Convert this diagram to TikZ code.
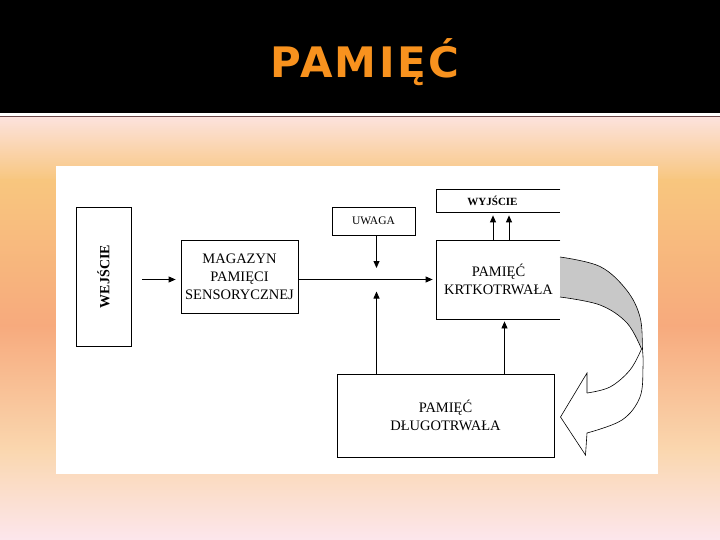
\documentclass[tikz,border=0pt]{standalone}
\usepackage{fontspec}
\setmainfont{Liberation Serif}
\newfontfamily\tytulfont[LetterSpace=6]{DejaVu Sans}
\usetikzlibrary{arrows.meta}
\definecolor{tytul}{RGB}{248,146,30}
\definecolor{bgtop}{RGB}{252,226,220}
\definecolor{bgorange}{RGB}{248,198,126}
\definecolor{bgsalmon}{RGB}{247,170,125}
\definecolor{bglight}{RGB}{250,215,175}
\definecolor{bgbottom}{RGB}{252,230,236}
\definecolor{wstega}{RGB}{200,200,200}
\tikzset{%
  >={Triangle[width=6pt,length=7pt]},
            base/.style = {rectangle, draw=black, line width=0.8pt,
                           inner sep=0pt, text centered, align=center,
                           font=\fontsize{14.5}{18}\selectfont},
  box0/.style = {base},
  box1/.style = {base, font=\fontsize{11.5}{14}\selectfont},
  void/.style = {base, draw=none},
  line/.style = {line width=0.8pt},
}

\begin{document}
\begin{tikzpicture}[x=1pt, y=-1pt]
  \useasboundingbox (0,0) rectangle (720,540);

  % slide background
  \fill[black] (0,0) rectangle (720,113);
  \fill[white] (0,113) rectangle (720,117);
  \draw[line width=1.2pt, black!65!red!40!gray] (0,116.8) -- (720,116.8);
  \shade[top color=bgtop,    bottom color=bgorange] (0,117.5) rectangle (720,181);
  \shade[top color=bgorange, bottom color=bgsalmon] (0,180)   rectangle (720,326);
  \shade[top color=bgsalmon, bottom color=bglight]  (0,325)   rectangle (720,451);
  \shade[top color=bglight,  bottom color=bgbottom] (0,450)   rectangle (720,540);
  \node (tytul) [anchor=base, text=tytul, font=\tytulfont\bfseries\fontsize{42}{48}\selectfont]
        at (365,78) {PAMIĘĆ};
  \fill[white] (56,166) rectangle (658,474);

  % boxes
  \node (wejscie) [box0, rotate=90, minimum width=139pt, minimum height=55pt,
                   font=\bfseries\fontsize{14}{17}\selectfont] at (103.5,276.5) {WEJŚCIE};
  \node (magazyn) [box0, minimum width=117pt, minimum height=73pt] at (239.5,276.5)
        {MAGAZYN\\PAMIĘCI\\SENSORYCZNEJ};
  \node (uwaga)   [box1, minimum width=83pt, minimum height=28pt] at (373.5,221) {UWAGA};
  \node (wyjscie) [void, minimum width=111pt, minimum height=22pt,
                   font=\bfseries\fontsize{11}{13}\selectfont] at (492.5,201) {WYJŚCIE};
  \node (krotka)  [void, minimum width=123pt, minimum height=78pt] at (498.5,279.5)
        {PAMIĘĆ\\KRTKOTRWAŁA};
  \node (dlugo)   [box0, minimum width=217pt, minimum height=83pt] at (445.5,415.5)
        {PAMIĘĆ\\DŁUGOTRWAŁA};

  % open right sides
  \draw[line] (krotka.north east) -- (krotka.north west) -- (krotka.south west) -- (krotka.south east);
  \draw[line] (wyjscie.north west -| krotka.east) -- (wyjscie.north west)
              -- (wyjscie.south west) -- (wyjscie.south west -| krotka.east);

  % connectors
  \coordinate (skrzyz) at (376.5,279.5);
  \draw[->, line, shorten <=11pt, shorten >=5pt] (wejscie.south |- skrzyz) -- (magazyn.west |- skrzyz);
  \draw[->, line, shorten >=4pt]   (magazyn.east |- skrzyz) -- (krotka.west |- skrzyz);
  \draw[->, line, shorten >=11.5pt] (uwaga.south -| skrzyz) -- (skrzyz);
  \draw[->, line, shorten >=12pt]  (dlugo.north -| skrzyz) -- (skrzyz);
  \draw[->, line, shorten >=2.5pt] ([xshift=6pt]krotka.south |- dlugo.north) -- ([xshift=6pt]krotka.south);
  \draw[->, line, shorten >=3pt]   ([xshift=-5.5pt]krotka.north) -- ([xshift=-5.5pt]krotka.north |- wyjscie.south);
  \draw[->, line, shorten >=3pt]   ([xshift=10.5pt]krotka.north) -- ([xshift=10.5pt]krotka.north |- wyjscie.south);

  % twisted return arrow
  \fill[wstega] plot[smooth, tension=0.6] coordinates {(560,257) (600,266.5) (626.5,290) (640,317) (641.5,349)}
        -- plot[smooth, tension=0.6] coordinates {(641.5,349) (627,323) (600,305) (560,297)} -- cycle;
  \draw[line width=0.6pt] plot[smooth, tension=0.6] coordinates
        {(560,257) (600,266.5) (626.5,290) (640,317) (642.5,349) (643,367) (640,397) (622,420) (587,433)};
  \draw[line width=0.6pt] plot[smooth, tension=0.6] coordinates
        {(560,297) (600,305) (627,323) (641.5,349)};
  \draw[line width=0.6pt] plot[smooth, tension=0.6] coordinates
        {(641.5,349) (630,370) (610,387) (587,393)};
  \draw[line width=0.6pt] (587,393) -- (587,373) -- (560.5,417) -- (585.5,455) -- (587,433);
\end{tikzpicture}
\end{document}
